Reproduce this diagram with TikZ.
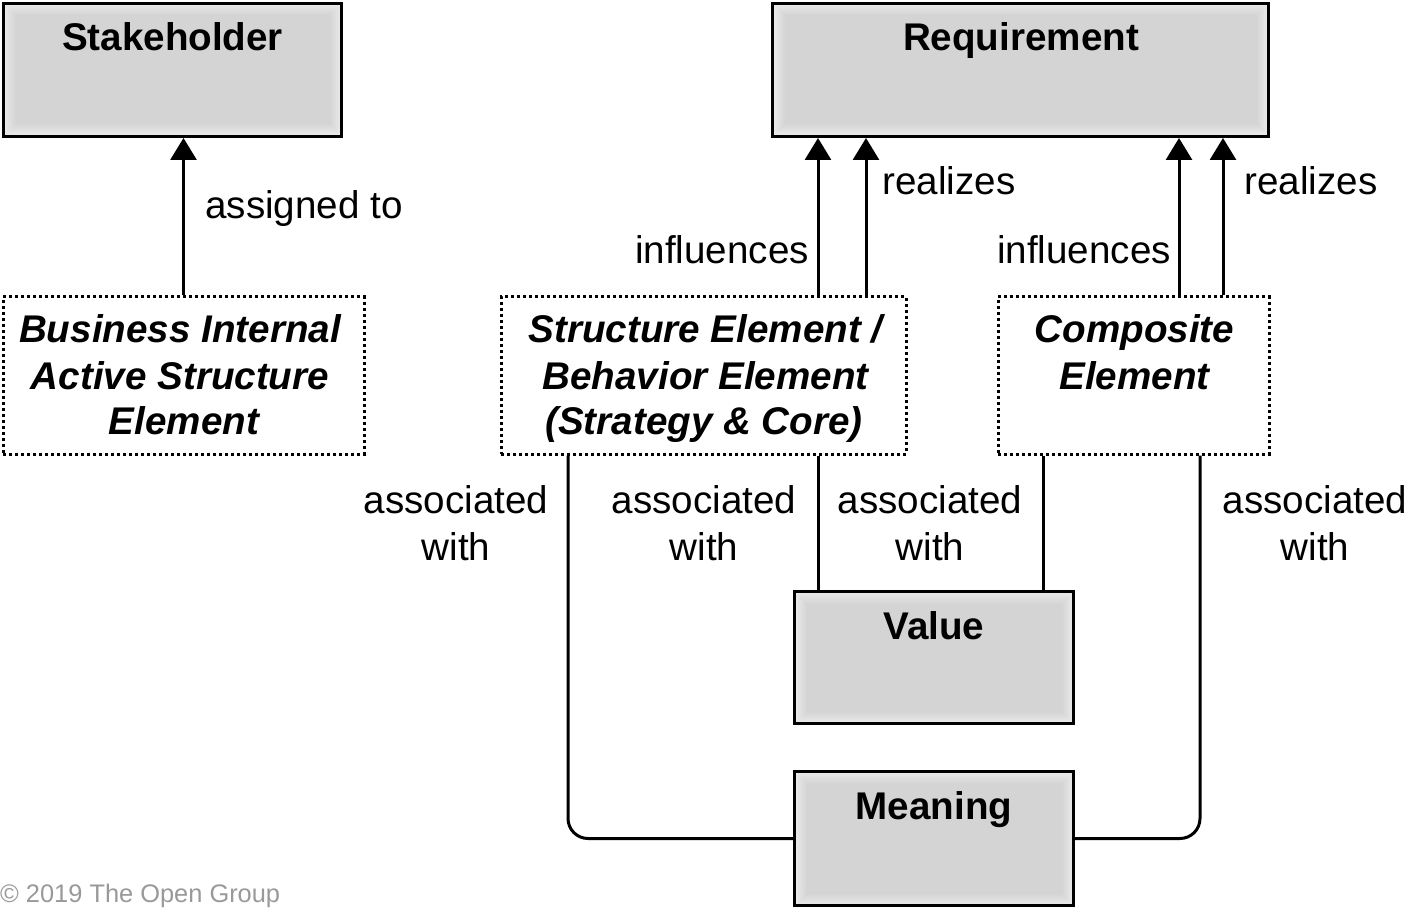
\documentclass[tikz,border=0pt]{standalone}
\usepackage{fontspec}
\setmainfont{Liberation Sans}
\usetikzlibrary{arrows.meta}
\tikzset{
  gbox/.style={draw=black, line width=3pt, inner sep=0pt,
    path picture={\foreach \i in {0,...,12}{\pgfmathsetmacro\p{8+0.75*\i}
      \fill[black!\p] ([shift={(\i pt,-\i pt)}]path picture bounding box.north west) rectangle ([shift={(-\i pt,\i pt)}]path picture bounding box.south east);}}},
  dbox/.style={draw=black, line width=3pt, dash pattern=on 3pt off 3pt, inner sep=0pt, fill=white},
  conn/.style={draw=black, line width=3pt},
  arr/.style={conn, -{Triangle[width=26pt,length=22pt]}},
  txt/.style={font=\fontsize{38.6}{46}\selectfont, inner sep=0pt, anchor=base},
  ttl/.style={txt, font=\fontsize{38.6}{46}\selectfont\bfseries},
  itl/.style={txt, font=\fontsize{38.6}{46}\selectfont\bfseries\itshape},
}
\begin{document}
\begin{tikzpicture}[x=1pt,y=-1pt]
\useasboundingbox (0,0) rectangle (1409,909);
% boxes
\node[gbox, minimum width=338pt, minimum height=133pt] (sh) at (172.5,70) {};
\node[gbox, minimum width=496pt, minimum height=133pt] (req) at (1020.5,70) {};
\node[dbox, minimum width=361pt, minimum height=157pt] (bie) at (183.5,375.5) {};
\node[dbox, minimum width=405pt, minimum height=157pt] (se) at (703.5,375.5) {};
\node[dbox, minimum width=271pt, minimum height=157pt] (ce) at (1133.5,375.5) {};
\node[gbox, minimum width=279pt, minimum height=132pt] (val) at (934,657.5) {};
\node[gbox, minimum width=279pt, minimum height=134pt] (mn) at (934,838.5) {};
% titles
\node[ttl] (tsh) at (172.5,51) {Stakeholder};
\node[ttl] (treq) at (1021,51) {Requirement};
\node[ttl] (tval) at (934,639) {Value};
\node[ttl] (tmn) at (934,819) {Meaning};
\node[itl] (tbie1) at (180,343) {Business Internal};
\node[itl] (tbie2) at (180,389) {Active Structure};
\node[itl] (tbie3) at (184,435) {Element};
\node[itl] (tse1) at (705.5,343) {Structure Element /};
\node[itl] (tse2) at (705.5,389) {Behavior Element};
\node[itl] (tse3) at (704,435) {(Strategy \& Core)};
\node[itl] (tce1) at (1134.5,343) {Composite};
\node[itl] (tce2) at (1134.5,389) {Element};
% connectors
\draw[arr] (bie.north) -- (bie.north |- sh.south);
\draw[arr] (se.north -| 818,0) -- (req.south -| 818,0);
\draw[arr] (se.north -| 866,0) -- (req.south -| 866,0);
\draw[arr] (ce.north -| 1179,0) -- (req.south -| 1179,0);
\draw[arr] (ce.north -| 1223,0) -- (req.south -| 1223,0);
\draw[conn] (se.south -| 818,0) -- (val.north -| 818,0);
\draw[conn] (ce.south -| 1043,0) -- (val.north -| 1043,0);
\draw[conn, rounded corners=20pt] (se.south -| 568,0) |- (mn.west);
\draw[conn, rounded corners=20pt] (ce.south -| 1200,0) |- (mn.east);
% labels
\node[txt] (l1) at (304,219) {assigned to};
\node[txt] (l2) at (722,263.5) {influences};
\node[txt] (l3) at (949,195) {realizes};
\node[txt] (l4) at (1084,263.5) {influences};
\node[txt] (l5) at (1311,195) {realizes};
\node[txt] (a1) at (456,513) {associated};
\node[txt] (a1b) at (456,560) {with};
\node[txt] (a2) at (704,513) {associated};
\node[txt] (a2b) at (704,560) {with};
\node[txt] (a3) at (930,513) {associated};
\node[txt] (a3b) at (930,560) {with};
\node[txt] (a4) at (1315,513) {associated};
\node[txt] (a4b) at (1315,560) {with};
% copyright
\node[anchor=base west, inner sep=0pt, font=\fontsize{25.4}{30}\selectfont, text=black!40] (cr) at (0,902) {© 2019 The Open Group};
\end{tikzpicture}
\end{document}
